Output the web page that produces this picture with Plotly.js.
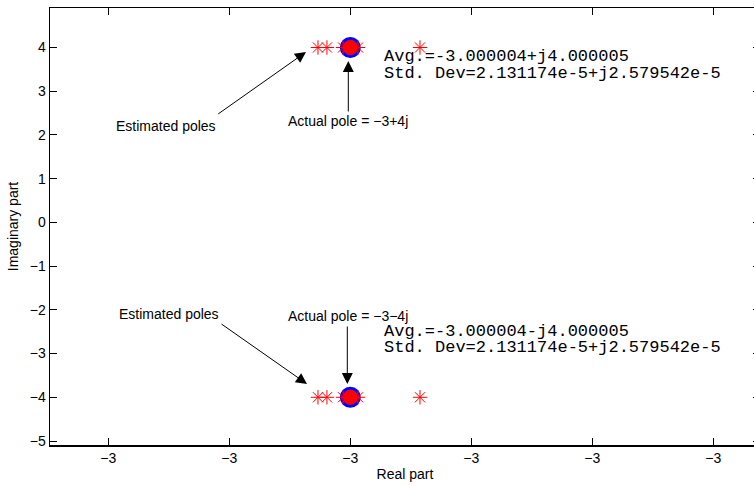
<!DOCTYPE html>
<html>
<head>
<meta charset="utf-8">
<script src="https://cdn.plot.ly/plotly-3.0.1.min.js"></script>
<style>
html,body{margin:0;padding:0;overflow:hidden;background:#fff;}
#chart{width:762px;height:486px;}
</style>
</head>
<body>
<div id="chart"></div>
<script>
// ---- data ----
const estReal = [-3.0000267, -3.0000193, -3.0000060, -2.9999936, -2.9999424, -3.0000000, -3.0000020, -2.9999980,
                 -3.0000267, -3.0000193, -3.0000060, -2.9999936, -2.9999424, -3.0000000, -3.0000020, -2.9999980];
const estImag = [4, 4, 4, 4, 4, 4, 4, 4,
                 -4, -4, -4, -4, -4, -4, -4, -4];
const actualReal = [-3, -3];
const actualImag = [4, -4];
const xTickVals = [-3.0002, -3.0001, -3.0000, -2.9999, -2.9998, -2.9997];
const xTickText = ['\u22123', '\u22123', '\u22123', '\u22123', '\u22123', '\u22123'];
const yTickVals = [-5, -4, -3, -2, -1, 0, 1, 2, 3, 4];
const topLabels = ['Estimated poles', 'Actual pole = \u22123+4j', 'Avg.=-3.000004+j4.000005', 'Std. Dev=2.131174e-5+j2.579542e-5'];
const botLabels = ['Estimated poles', 'Actual pole = \u22123\u22124j', 'Avg.=-3.000004-j4.000005', 'Std. Dev=2.131174e-5+j2.579542e-5'];

// ---- geometry ----
const L = 50, R = 760, T = 8, B = 445;
const xRange = [-3 + (L - 350.3) / 121 * 1e-4, -3 + (R - 350.3) / 121 * 1e-4];
const yRange = [-5 - (B - 441) / 43.72, 4 + (47.5 - T) / 43.72];
function px(p) { return xRange[0] + (p - L) / (R - L) * (xRange[1] - xRange[0]); }
function py(p) { return yRange[1] - (p - T) / (B - T) * (yRange[1] - yRange[0]); }

const sans = {family: 'Liberation Sans, Arial, Helvetica, sans-serif', size: 14, color: '#000'};
const mono = {family: 'Courier New, Liberation Mono, monospace', size: 17, color: '#000'};

function label(text, xp, yp, font, anchor) {
  return {text: text, x: px(xp), y: py(yp), xref: 'x', yref: 'y', showarrow: false,
          xanchor: anchor || 'left', yanchor: 'middle', font: font, borderpad: 0};
}
function arrow(tx, ty, hx, hy) {
  return {text: '', x: px(hx), y: py(hy), ax: px(tx), ay: py(ty), xref: 'x', yref: 'y',
          axref: 'x', ayref: 'y', showarrow: true, arrowhead: 2, arrowsize: 2.2,
          arrowwidth: 1, arrowcolor: '#000', standoff: 0, startstandoff: 0};
}

const traces = [
  {x: actualReal, y: actualImag, type: 'scatter', mode: 'markers',
   marker: {symbol: 'circle', size: 18, color: '#ff0000', line: {color: '#0000ff', width: 3}},
   hoverinfo: 'skip'},
  {x: estReal, y: estImag, type: 'scatter', mode: 'markers',
   marker: {symbol: 'asterisk-open', size: 12, color: '#ff0000', line: {color: '#ff0000', width: 1}},
   hoverinfo: 'skip'}
];

const layout = {
  width: 762, height: 486,
  margin: {l: L, r: 762 - R, t: T, b: 486 - B},
  paper_bgcolor: '#fff', plot_bgcolor: '#fff',
  showlegend: false,
  font: sans,
  xaxis: {range: xRange, tickvals: xTickVals, ticktext: xTickText, ticks: 'inside', ticklen: 7,
          tickcolor: '#000', tickwidth: 1, showline: true, linecolor: '#000', linewidth: 1.5,
          mirror: 'ticks', showgrid: false, zeroline: false, tickfont: sans,
          title: {text: 'Real part', font: sans, standoff: 4}},
  yaxis: {range: yRange, tickvals: yTickVals, ticks: 'inside', ticklen: 7,
          tickcolor: '#000', tickwidth: 1, showline: true, linecolor: '#000', linewidth: 1.5,
          mirror: 'ticks', showgrid: false, zeroline: false, tickfont: sans,
          title: {text: 'Imaginary part', font: sans, standoff: 8}},
  annotations: [
    label(topLabels[0], 166, 125.7, sans, 'center'),
    label(topLabels[1], 286.7, 120.7, sans),
    label(topLabels[2], 382.7, 56.7, mono),
    label(topLabels[3], 382.7, 73, mono),
    label(botLabels[0], 118.3, 314.3, sans),
    label(botLabels[1], 287, 316, sans),
    label(botLabels[2], 382.7, 331, mono),
    label(botLabels[3], 382.7, 347, mono),
    arrow(216.7, 115, 306, 52),
    arrow(348.3, 113, 348.3, 61),
    arrow(220, 323, 307, 384),
    arrow(347.3, 325, 347.3, 384)
  ]
};

Plotly.newPlot('chart', traces, layout, {staticPlot: true, displayModeBar: false});
</script>
</body>
</html>
